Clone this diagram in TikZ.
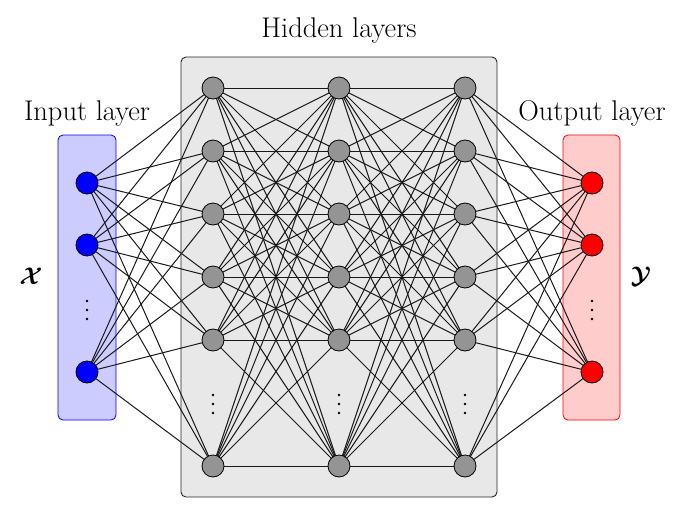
\documentclass[tikz,border=0pt]{standalone}
\usepackage{amsmath,bm,graphicx}
\begin{document}
\begin{tikzpicture}[x=1pt,y=-1pt,
  neuron/.style={circle,draw=black,line width=0.8pt,minimum size=22pt,inner sep=0pt},
  inneuron/.style={neuron,fill=blue},
  hidneuron/.style={neuron,fill=black!42},
  outneuron/.style={neuron,fill=red},
  conn/.style={line width=1pt,black!90},
  lbl/.style={font=\fontsize{28.5}{32}\selectfont},
  dotmark/.style={fill=black,circle,inner sep=0pt,minimum size=2.6pt}]
\useasboundingbox (0,0) rectangle (686,512);
% boxes
\draw[blue,fill=blue!20,rounded corners=5pt,line width=0.8pt] (58,135) rectangle (116,420);
\draw[black!85,fill=black!9,rounded corners=5pt,line width=0.9pt] (181,57) rectangle (497,497);
\draw[red,fill=red!20,rounded corners=5pt,line width=0.8pt] (563,135) rectangle (620,420);
% labels
\node[lbl] (lin) at (87,113) {Input layer};
\node[lbl] (lhid) at (339,30) {Hidden layers};
\node[lbl] (lout) at (592,113) {Output layer};
\node (lx) at (31,276) {\scalebox{2.4}{$\bm{\mathcal{X}}$}};
\node (ly) at (641,276) {\scalebox{2.4}{$\bm{\mathcal{Y}}$}};
% coordinates
\foreach \i/\y in {1/183,2/245,3/372} \coordinate (I\i) at (87,\y);
\foreach \l/\x in {1/213,2/339,3/465}
  \foreach \j/\y in {1/88,2/151,3/214,4/277,5/340,6/466}
    \coordinate (H\l-\j) at (\x,\y);
\foreach \i/\y in {1/183,2/245,3/372} \coordinate (O\i) at (592,\y);
% connections
\foreach \i in {1,2,3}
  \foreach \j in {1,...,6}
    \draw[conn] (I\i) -- (H1-\j);
\foreach \a in {1,...,6}
  \foreach \b in {1,...,6} {
    \draw[conn] (H1-\a) -- (H2-\b);
    \draw[conn] (H2-\a) -- (H3-\b);
  }
\foreach \j in {1,...,6}
  \foreach \i in {1,2,3}
    \draw[conn] (H3-\j) -- (O\i);
% neurons
\foreach \i in {1,2,3} \node[inneuron] (in\i) at (I\i) {};
\foreach \l in {1,2,3}
  \foreach \j in {1,...,6}
    \node[hidneuron] (h\l\j) at (H\l-\j) {};
\foreach \i in {1,2,3} \node[outneuron] (out\i) at (O\i) {};
% vertical dots
\foreach \n/\x/\y in {a/87/310,b/213/404,c/339/404,d/465/404,e/592/310}
  \foreach \k/\dy in {1/-9,2/0,3/9}
    \node[dotmark] (dot\n\k) at (\x,\y+\dy) {};
\end{tikzpicture}
\end{document}
